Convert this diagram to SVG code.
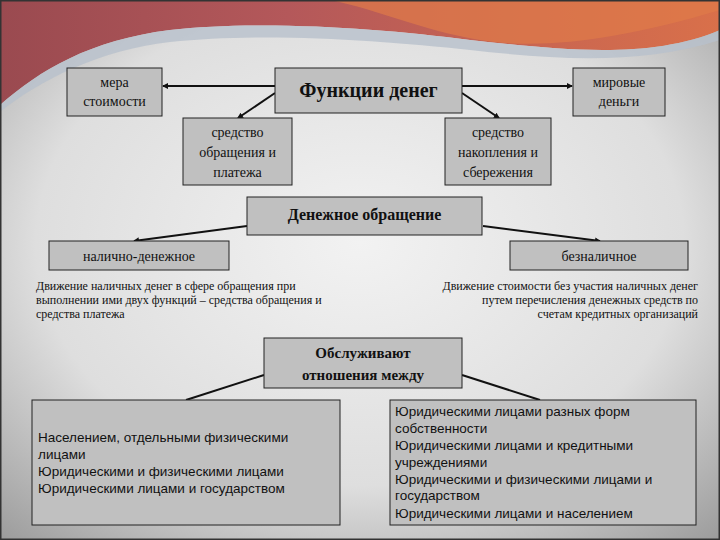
<svg xmlns="http://www.w3.org/2000/svg" width="720" height="540" viewBox="0 0 720 540">
<defs>
<radialGradient id="bg" cx="0.5" cy="0.45" r="0.75">
<stop offset="0" stop-color="#f2f2f2"/><stop offset="0.6" stop-color="#dedede"/><stop offset="1" stop-color="#9a9a9a"/>
</radialGradient>
<linearGradient id="red" x1="0" y1="0" x2="1" y2="0">
<stop offset="0" stop-color="#9a4a50"/><stop offset="0.4" stop-color="#b4585a"/><stop offset="1" stop-color="#d9704a"/>
</linearGradient>
<marker id="ah" markerWidth="6" markerHeight="6" refX="5" refY="3" orient="auto" markerUnits="userSpaceOnUse">
<path d="M0,0 L6,3 L0,6 z" fill="#111"/>
</marker>
<style>
.b{fill:#c0c0c0;stroke:#222;stroke-width:1}
.s{font-family:"Liberation Serif","DejaVu Serif",serif;font-size:14px;fill:#111;text-anchor:middle}
.h{font-family:"Liberation Serif","DejaVu Serif",serif;font-weight:bold;fill:#111;text-anchor:middle}
.t{font-family:"Liberation Serif","DejaVu Serif",serif;font-size:12px;fill:#111}
.a{font-family:"Liberation Sans",sans-serif;font-size:13.5px;fill:#111}
.c{stroke:#111;stroke-width:2;fill:none;marker-end:url(#ah)}
</style>
</defs>
<rect width="720" height="540" fill="url(#bg)"/>
<path d="M0,0 H720 V30 C650,60 560,50 470,40 C380,28 260,20 170,30 C90,40 40,70 0,105 Z" fill="url(#red)"/>
<path d="M0,105 C40,70 90,40 170,30 C260,20 380,28 470,40 C560,50 650,60 720,30 V40 C640,65 560,60 470,50 C380,40 260,32 170,42 C100,50 40,80 0,112 Z" fill="#b8c0cc" opacity="0.8"/>
<path d="M330,0 C380,10 420,30 480,40 C540,50 620,40 720,10 V0 Z" fill="#e07a48" opacity="0.7"/>
<rect x="0.5" y="0.5" width="719" height="539" fill="none" stroke="#333" stroke-width="2"/>
<g id="connectors">
<line class="c" x1="275" y1="86" x2="163" y2="86"/>
<line class="c" x1="462" y1="86" x2="572" y2="86"/>
<line class="c" x1="275" y1="93" x2="238" y2="118"/>
<line class="c" x1="462" y1="93" x2="499" y2="118"/>
<line class="c" x1="247" y1="226" x2="134" y2="241"/>
<line class="c" x1="483" y1="226" x2="600" y2="241"/>
<line stroke="#111" stroke-width="2" x1="264" y1="375" x2="186" y2="400"/>
<line stroke="#111" stroke-width="2" x1="462" y1="375" x2="540" y2="400"/>
</g>
<g id="mera"><rect class="b" x="67" y="68" width="95" height="48"/><text class="s" x="114.5" y="87">мера</text><text class="s" x="114.5" y="106">стоимости</text></g>
<g id="funkcii"><rect class="b" x="275" y="68" width="187" height="45"/><text class="h" x="368.5" y="97" font-size="20">Функции денег</text></g>
<g id="mirovye"><rect class="b" x="573" y="68" width="92" height="48"/><text class="s" x="619" y="87">мировые</text><text class="s" x="619" y="106">деньги</text></g>
<g id="obrash"><rect class="b" x="183" y="118" width="109" height="67"/><text class="s" x="237.5" y="137">средство</text><text class="s" x="237.5" y="157">обращения и</text><text class="s" x="237.5" y="177">платежа</text></g>
<g id="nakop"><rect class="b" x="445" y="118" width="106" height="67"/><text class="s" x="498" y="137">средство</text><text class="s" x="498" y="157">накопления и</text><text class="s" x="498" y="177">сбережения</text></g>
<g id="denobr"><rect class="b" x="247" y="197" width="235" height="38"/><text class="h" x="364.5" y="220" font-size="16">Денежное обращение</text></g>
<g id="nalich"><rect class="b" x="49" y="241" width="180" height="29"/><text class="s" x="139" y="261">налично-денежное</text></g>
<g id="beznal"><rect class="b" x="510" y="241" width="178" height="29"/><text class="s" x="599" y="261">безналичное</text></g>
<g id="desc-left"><text class="t" x="36" y="290">Движение наличных денег в сфере обращения при</text><text class="t" x="36" y="304">выполнении ими двух функций – средства обращения и</text><text class="t" x="36" y="318">средства платежа</text></g>
<g id="desc-right"><text class="t" x="698" y="290" text-anchor="end">Движение стоимости без участия наличных денег</text><text class="t" x="698" y="304" text-anchor="end">путем перечисления денежных средств по</text><text class="t" x="698" y="318" text-anchor="end">счетам кредитных организаций</text></g>
<g id="obsl"><rect class="b" x="264" y="338" width="198" height="50"/><text class="h" x="363" y="358" font-size="15">Обслуживают</text><text class="h" x="363" y="380" font-size="15">отношения между</text></g>
<g id="left-box"><rect class="b" x="32" y="400" width="308" height="125"/><text class="a" x="38" y="442">Населением, отдельными физическими</text><text class="a" x="38" y="459">лицами</text><text class="a" x="38" y="476">Юридическими и физическими лицами</text><text class="a" x="38" y="493">Юридическими лицами и государством</text></g>
<g id="right-box"><rect class="b" x="390" y="400" width="306" height="125"/><text class="a" x="395" y="416">Юридическими лицами разных форм</text><text class="a" x="395" y="433">собственности</text><text class="a" x="395" y="450">Юридическими лицами и кредитными</text><text class="a" x="395" y="467">учреждениями</text><text class="a" x="395" y="484">Юридическими и физическими лицами и</text><text class="a" x="395" y="500">государством</text><text class="a" x="395" y="518">Юридическими лицами и населением</text></g>
</svg>
